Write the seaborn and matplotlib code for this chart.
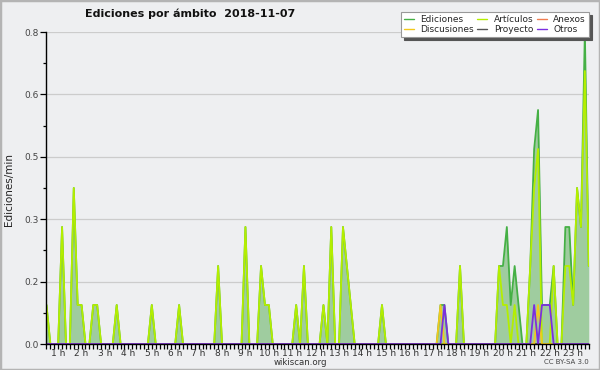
import matplotlib
matplotlib.use("Agg")
import matplotlib.pyplot as plt
import matplotlib.ticker as mticker
from matplotlib.lines import Line2D
from matplotlib.patches import Rectangle
import seaborn as sns
import pandas as pd
import numpy as np

# ---------------- data ----------------
title = "Ediciones por ámbito  2018-11-07"
ylabel = "Ediciones/min"
source = "wikiscan.org"
license_text = "CC BY-SA 3.0"
hour_labels = [f"{h} h" for h in range(1, 24)]
series_names = ["Ediciones", "Artículos", "Anexos", "Discusiones", "Proyecto", "Otros"]

first_bin_minute = 30      # first 10-minute bin shown (00:30)
bin_minutes = 10

# edits per minute, one value per 10-minute bin (00:30 ... 23:40)
ediciones = [
    .1, 0, 0,                 # 0 h (from 0:30)
    0, .3, 0, 0, .4, .1,      # 1 h
    .1, 0, 0, .1, .1, 0,      # 2 h
    0, 0, 0, .1, 0, 0,        # 3 h
    0, 0, 0, 0, 0, 0,         # 4 h
    .1, 0, 0, 0, 0, 0,        # 5 h
    0, .1, 0, 0, 0, 0,        # 6 h
    0, 0, 0, 0, 0, .2,        # 7 h
    0, 0, 0, 0, 0, 0,         # 8 h
    .3, 0, 0, 0, .2, .1,      # 9 h
    .1, 0, 0, 0, 0, 0,        # 10 h
    0, .1, 0, .2, 0, 0,       # 11 h
    0, 0, .1, 0, .3, 0,       # 12 h
    0, .3, .2, .1, 0, 0,      # 13 h
    0, 0, 0, 0, 0, .1,        # 14 h
    0, 0, 0, 0, 0, 0,         # 15 h
    0, 0, 0, 0, 0, 0,         # 16 h
    0, 0, .1, .1, 0, 0,       # 17 h
    0, .2, 0, 0, 0, 0,        # 18 h
    0, 0, 0, 0, 0, .2,        # 19 h
    .2, .3, .1, .2, .1, 0,    # 20 h
    0, .2, .5, .6, .1, .1,    # 21 h
    .1, .2, 0, 0, .3, .3,     # 22 h
    .1, .4, .3, .8, .2,       # 23 h
]
articulos = [
    .1, 0, 0,
    0, .3, 0, 0, .4, .1,
    .1, 0, 0, .1, .1, 0,
    0, 0, 0, .1, 0, 0,
    0, 0, 0, 0, 0, 0,
    .1, 0, 0, 0, 0, 0,
    0, .1, 0, 0, 0, 0,
    0, 0, 0, 0, 0, .2,
    0, 0, 0, 0, 0, 0,
    .3, 0, 0, 0, .2, .1,
    .1, 0, 0, 0, 0, 0,
    0, .1, 0, .2, 0, 0,
    0, 0, .1, 0, .3, 0,
    0, .3, .2, .1, 0, 0,
    0, 0, 0, 0, 0, .1,
    0, 0, 0, 0, 0, 0,
    0, 0, 0, 0, 0, 0,
    0, 0, 0, 0, 0, 0,
    0, .2, 0, 0, 0, 0,
    0, 0, 0, 0, 0, .2,
    .1, .1, 0, .1, 0, 0,
    0, .2, .4, .5, 0, 0,
    0, .2, 0, 0, .2, .2,
    .1, .4, .3, .7, .2,
]
anexos = [0] * 140
proyecto = [0] * 140
discusiones = [0] * 140
discusiones[3 + 17 * 6 + 2 - 6] = .1   # 17:20
discusiones[3 + 21 * 6 + 3 - 6] = .1   # 21:30
otros = [0] * 140
for idx, val in [(3 + 17 * 6 + 3 - 6, .1),  # 17:30
                 (3 + 21 * 6 + 2 - 6, .1),  # 21:20
                 (3 + 21 * 6 + 4 - 6, .1),  # 21:40
                 (3 + 21 * 6 + 5 - 6, .1),  # 21:50
                 (3 + 22 * 6 + 0 - 6, .1)]: # 22:00
    otros[idx] = val

# ---------------- style ----------------
BG = "#eeeff1"
FILL = "#9fcc9f"
colors = {
    "Ediciones": "#45b045",
    "Artículos": "#b4ee00",
    "Anexos": "#f07c50",
    "Discusiones": "#f2c81c",
    "Proyecto": "#555555",
    "Otros": "#7b2fe0",
}

sns.set_theme(style="white")
plt.rcParams["font.family"] = ["DejaVu Sans"]

n = len(ediciones)
hours = (first_bin_minute + bin_minutes * np.arange(n)) / 60.0
df = pd.DataFrame({
    "hora": hours,
    "Ediciones": ediciones,
    "Artículos": articulos,
    "Anexos": anexos,
    "Discusiones": discusiones,
    "Proyecto": proyecto,
    "Otros": otros,
})
long = df.melt(id_vars="hora", var_name="serie", value_name="valor")

W, H = 600, 370
fig = plt.figure(figsize=(6, 3.7), dpi=100, facecolor=BG)
ax = fig.add_axes([46 / W, 1 - 344 / H, 543 / W, 312 / H])
ax.set_facecolor(BG)

ax.fill_between(df["hora"], df["Ediciones"], 0, color=FILL, lw=0, zorder=1)

draw_order = ["Anexos", "Proyecto", "Ediciones", "Artículos", "Discusiones", "Otros"]
for z, name in enumerate(draw_order):
    sns.lineplot(data=long[long["serie"] == name], x="hora", y="valor",
                 color=colors[name], lw=1.3, ax=ax, legend=False,
                 zorder=2 + z * 0.01, errorbar=None)

ax.set_xlim(hours[0] - 0.02, hours[-1] + 0.01)
ax.set_ylim(0, 0.8)
ax.set_xlabel("")
ax.set_ylabel("")

ax.set_xticks(np.arange(1, 24))
ax.set_xticklabels(hour_labels)
ax.set_xticks(hours, minor=True)
ax.set_yticks(np.linspace(0, 0.8, 6))
ax.set_yticks(np.linspace(0, 0.8, 11), minor=True)
ax.yaxis.set_major_formatter(mticker.FormatStrFormatter("%.1f"))

ax.tick_params(axis="both", which="both", direction="out", color="black",
               width=0.9, bottom=True, left=True)
ax.tick_params(axis="x", which="both", length=3.5, labelsize=6.5, pad=0,
               labelcolor="#333333")
ax.tick_params(axis="y", which="major", length=4.5, labelsize=6.5, pad=1,
               labelcolor="#444444")
ax.tick_params(axis="y", which="minor", length=2.5)

ax.yaxis.grid(True, which="major", color="#cccccc", lw=0.9)
ax.set_axisbelow(True)
for s in ["top", "right"]:
    ax.spines[s].set_visible(False)
for s in ["left", "bottom"]:
    ax.spines[s].set_color("black")
    ax.spines[s].set_linewidth(1.0)
    ax.spines[s].set_zorder(5)

fig.text(85 / W, 1 - 14 / H, title, fontsize=8, fontweight="bold",
         ha="left", va="center", color="#111111")
fig.text(9 / W, 1 - 189 / H, ylabel, fontsize=7.5, rotation=90,
         ha="center", va="center", color="#222222")
fig.text(0.5, 1 - 362.5 / H, source, fontsize=6.2, ha="center", va="center",
         color="#333333")
fig.text(589 / W, 1 - 362.5 / H, license_text, fontsize=5, ha="right",
         va="center", color="#444444")

legend_order = ["Ediciones", "Discusiones", "Artículos", "Proyecto", "Anexos", "Otros"]
handles = [Line2D([], [], color=colors[nm], lw=1.0) for nm in legend_order]
leg = fig.legend(handles, legend_order, ncol=3, loc="upper right",
                 bbox_to_anchor=(589 / W, 1 - 12 / H), fontsize=6.5,
                 frameon=True, fancybox=False, shadow={"color": "#555555", "alpha": 1.0},
                 edgecolor="#999999", facecolor="white", framealpha=1,
                 borderpad=0.35, handlelength=1.1, handletextpad=0.7,
                 columnspacing=0.4, labelspacing=0.1, borderaxespad=0)
leg.get_frame().set_linewidth(0.8)

fig.patches.append(Rectangle((0, 0), 1, 1, transform=fig.transFigure,
                             fill=False, edgecolor="#b4b4b4", lw=2.5))

fig.savefig("out.png", dpi=100, facecolor=BG)
